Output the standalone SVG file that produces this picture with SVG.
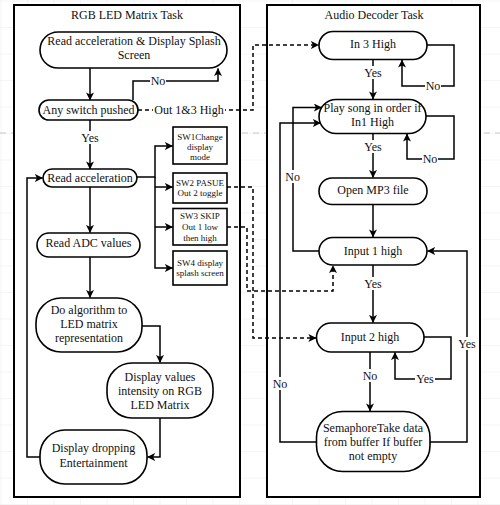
<svg xmlns="http://www.w3.org/2000/svg" width="500" height="505" viewBox="0 0 500 505">
<style>
text{font-family:"Liberation Serif","Times New Roman",serif;font-size:12px;fill:#111;text-anchor:middle}
.sw text,text.sw{font-size:9px}
.node{fill:#fff;stroke:#000;stroke-width:1.6}
.frame{fill:#fff;stroke:#000;stroke-width:2}
.c{fill:none;stroke:#000;stroke-width:1.5}
.c.a{marker-end:url(#ah)}
.d{fill:none;stroke:#000;stroke-width:1.5;stroke-dasharray:4 3}
.d.a{marker-end:url(#ah)}
.bg{fill:#fff}
</style>
<defs>
<marker id="ah" viewBox="0 0 10 10" refX="9.5" refY="5" markerWidth="8" markerHeight="8" orient="auto" markerUnits="userSpaceOnUse"><path d="M0,0 L10,5 L0,10 L2.5,5 z" fill="#000"/></marker>
<pattern id="grid" x="0.5" y="0.5" width="26.5" height="26.5" patternUnits="userSpaceOnUse"><path d="M0,0 H26.5 M0,0 V26.5" fill="none" stroke="#ececec" stroke-width="1"/></pattern>
</defs>
<rect width="500" height="505" fill="#fff"/>
<rect width="500" height="505" fill="url(#grid)"/>
<line x1="0" y1="133" x2="500" y2="133" stroke="#c8c8c8" stroke-width="1" stroke-dasharray="6 5"/>

<g id="frames">
<rect class="frame" x="14" y="5" width="226" height="492"/>
<text x="127" y="18.5">RGB LED Matrix Task</text>
<rect class="frame" x="267" y="5" width="213" height="492"/>
<text x="374" y="18.5">Audio Decoder Task</text>
</g>

<g id="connectors">
<path class="c a" d="M90,68 V100"/>
<path class="c a" d="M133,100 V81 H218 V68.5"/>
<path class="c a" d="M90,120 V169"/>
<path class="c a" d="M137,177 H155 V146 H172.5"/>
<path class="c a" d="M155,177 V268 H172.5"/>
<path class="c a" d="M155,187 H172.5"/>
<path class="c a" d="M155,227 H172.5"/>
<path class="c a" d="M90,187 V232.5"/>
<path class="c a" d="M90,257 V297.5"/>
<path class="c a" d="M142,326 H160 V362.5"/>
<path class="c a" d="M160,418 V457 H147.5"/>
<path class="c a" d="M40,457 H27 V178 H42.5"/>

<path class="d a" d="M138,110 H253 V45 H318.5"/>
<path class="d a" d="M227,187 H253 V338 H316"/>
<path class="d a" d="M227,227 H247 V291 H333 V265.5"/>

<path class="c a" d="M373,59.5 V99"/>
<path class="c a" d="M427,45 H454 V86 H402 V60"/>
<path class="c a" d="M373,133.5 V177.5"/>
<path class="c a" d="M426,116 H454 V159 H407 V134"/>
<path class="c a" d="M373,204.5 V237"/>
<path class="c a" d="M319,251 H293 V107.5 H321.5"/>
<path class="c a" d="M373,265 V322.5"/>
<path class="c a" d="M424,337 H451 V379 H395 V352.5"/>
<path class="c a" d="M370,352 V411"/>
<path class="c a" d="M316.5,442 H280 V123 H320.5"/>
<path class="c a" d="M430,442 H467 V251 H427.5"/>

<rect class="bg" x="150" y="74" width="16" height="13"/>
<text x="158" y="85">No</text>
<rect class="bg" x="153" y="103" width="72" height="13"/>
<text x="189" y="114">Out 1&amp;3 High</text>
<rect class="bg" x="80" y="131" width="20" height="13"/>
<text x="90" y="142">Yes</text>

<rect class="bg" x="363" y="66" width="20" height="13"/>
<text x="373" y="76.7">Yes</text>
<rect class="bg" x="425" y="79" width="16" height="13"/>
<text x="433" y="90">No</text>
<rect class="bg" x="363" y="140" width="20" height="13"/>
<text x="373" y="150.7">Yes</text>
<rect class="bg" x="422" y="152" width="16" height="13"/>
<text x="430" y="163.3">No</text>
<rect class="bg" x="285" y="170" width="16" height="13"/>
<text x="292.7" y="181">No</text>
<rect class="bg" x="363" y="277" width="20" height="13"/>
<text x="373" y="288.3">Yes</text>
<rect class="bg" x="362" y="369" width="16" height="13"/>
<text x="370" y="380">No</text>
<rect class="bg" x="415" y="372" width="20" height="13"/>
<text x="425" y="383.3">Yes</text>
<rect class="bg" x="272" y="377" width="16" height="13"/>
<text x="280" y="388">No</text>
<rect class="bg" x="457" y="337" width="20" height="13"/>
<text x="467" y="348">Yes</text>
</g>

<g id="n-splash">
<rect class="node" x="40" y="32" width="187" height="36" rx="18"/>
<text x="134" y="45">Read acceleration &amp; Display Splash</text>
<text x="134" y="59">Screen</text>
</g>
<g id="n-anyswitch">
<rect class="node" x="39" y="100" width="99" height="20" rx="10"/>
<text x="88.5" y="114">Any switch pushed</text>
</g>
<g id="n-readacc">
<rect class="node" x="43" y="169" width="94" height="18" rx="9"/>
<text x="90" y="181.5">Read acceleration</text>
</g>
<g id="n-sw1" class="sw">
<rect class="node" x="173" y="127" width="54" height="37"/>
<text x="200" y="139.7">SW1Change</text>
<text x="200" y="149.7">display</text>
<text x="200" y="159.7">mode</text>
</g>
<g id="n-sw2" class="sw">
<rect class="node" x="173" y="173" width="54" height="30"/>
<text x="200" y="185.7">SW2 PASUE</text>
<text x="200" y="195.7">Out 2 toggle</text>
</g>
<g id="n-sw3" class="sw">
<rect class="node" x="173" y="208.5" width="54" height="36.5"/>
<text x="200" y="219.3">SW3 SKIP</text>
<text x="200" y="230.3">Out 1 low</text>
<text x="200" y="241">then high</text>
</g>
<g id="n-sw4" class="sw">
<rect class="node" x="173" y="251" width="54" height="34"/>
<text x="200" y="265.5">SW4 display</text>
<text x="200" y="276">splash screen</text>
</g>
<g id="n-adc">
<rect class="node" x="37" y="233" width="103" height="24" rx="12"/>
<text x="88.5" y="246.7">Read ADC values</text>
</g>
<g id="n-algo">
<rect class="node" x="36" y="298" width="106" height="54" rx="25"/>
<text x="89" y="314">Do algorithm to</text>
<text x="89" y="328">LED matrix</text>
<text x="89" y="342">representation</text>
</g>
<g id="n-display">
<rect class="node" x="107" y="363" width="106" height="55" rx="25"/>
<text x="160" y="380.5">Display values</text>
<text x="160" y="395">intensity on RGB</text>
<text x="160" y="408.5">LED Matrix</text>
</g>
<g id="n-dropping">
<rect class="node" x="40" y="430" width="107" height="54" rx="25"/>
<text x="93.5" y="452.3">Display dropping</text>
<text x="93.5" y="466.7">Entertainment</text>
</g>

<g id="n-in3">
<rect class="node" x="319" y="31.5" width="108" height="28" rx="14"/>
<text x="373" y="47.5">In 3 High</text>
</g>
<g id="n-play">
<rect class="node" x="319" y="99.5" width="107" height="34" rx="17"/>
<text x="372.5" y="111.7">Play song in order if</text>
<text x="372.5" y="125.7">In1 High</text>
</g>
<g id="n-open">
<rect class="node" x="319" y="178" width="108" height="26.5" rx="13"/>
<text x="373" y="194">Open MP3 file</text>
</g>
<g id="n-input1">
<rect class="node" x="319" y="237.5" width="108" height="27.5" rx="13.75"/>
<text x="373" y="254.7">Input 1 high</text>
</g>
<g id="n-input2">
<rect class="node" x="316.5" y="323" width="107.5" height="29" rx="14.5"/>
<text x="370" y="341.3">Input 2 high</text>
</g>
<g id="n-sem">
<rect class="node" x="316.5" y="411.5" width="113.5" height="60" rx="26"/>
<text x="373" y="431.7">SemaphoreTake data</text>
<text x="373" y="445.7">from buffer If buffer</text>
<text x="373" y="460">not empty</text>
</g>
</svg>
